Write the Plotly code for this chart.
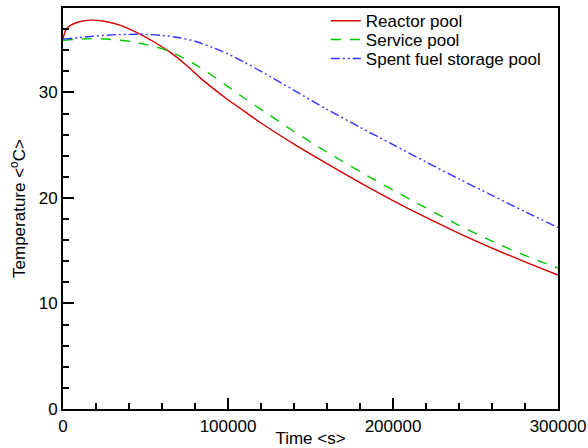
import plotly.graph_objects as go

# Time in seconds
t_red = [0, 2000, 5000, 10000, 17000, 25000, 35000, 47000, 55000, 65000, 75000, 83000,
         90000, 100000, 110000, 120000, 140000, 160000, 180000, 200000, 220000, 240000,
         260000, 280000, 300000]
reactor = [35.1, 36.0, 36.4, 36.7, 36.85, 36.75, 36.35, 35.5, 34.8, 33.8, 32.55, 31.4,
           30.5, 29.3, 28.2, 27.1, 25.1, 23.25, 21.45, 19.75, 18.15, 16.65,
           15.25, 13.95, 12.7]

t_green = [0, 10000, 20000, 30000, 40000, 50000, 60000, 70000, 80000, 90000, 100000,
           110000, 120000, 140000, 160000, 180000, 200000, 220000, 240000, 260000,
           280000, 300000]
service = [34.95, 35.05, 35.1, 35.0, 34.85, 34.55, 34.15, 33.5, 32.65, 31.65, 30.55,
           29.45, 28.4, 26.3, 24.35, 22.5, 20.75, 19.05, 17.4, 15.9,
           14.55, 13.35]

t_blue = [0, 10000, 20000, 30000, 40000, 50000, 60000, 70000, 80000, 90000, 100000,
          110000, 120000, 140000, 160000, 180000, 200000, 220000, 240000, 260000,
          280000, 300000]
spent = [35.05, 35.2, 35.35, 35.45, 35.5, 35.5, 35.4, 35.2, 34.85, 34.3, 33.65,
         32.85, 32.0, 30.2, 28.4, 26.7, 25.05, 23.4, 21.8, 20.25,
         18.7, 17.2]

x_ticks = [0, 100000, 200000, 300000]
y_ticks = [0, 10, 20, 30]

FONT = "Liberation Sans, Arial, sans-serif"
FS = 17

fig = go.Figure()
fig.add_trace(go.Scatter(x=t_red, y=reactor, mode="lines", name="Reactor pool",
                         legend="legend",
                         line=dict(color="#d40000", width=1.4, shape="spline", smoothing=0.8)))
fig.add_trace(go.Scatter(x=t_green, y=service, mode="lines", name="Service pool",
                         legend="legend2",
                         line=dict(color="#00c800", width=1.4, shape="spline", smoothing=0.8,
                                   dash="10px,9px")))
fig.add_trace(go.Scatter(x=t_blue, y=spent, mode="lines", name="Spent fuel storage pool",
                         legend="legend3",
                         line=dict(color="#3333ff", width=1.4, shape="spline", smoothing=0.8,
                                   dash="9px,3px,2px,3px,2px,3px")))

axis_common = dict(
    showgrid=False, zeroline=False, showline=True, linecolor="black", linewidth=2,
    mirror=True, ticks="inside", ticklen=11, tickwidth=2, tickcolor="black",
    tickfont=dict(family=FONT, size=FS, color="black"), automargin=False,
)

fig.update_xaxes(range=[0, 300000], tickvals=x_ticks, ticktext=[str(v) for v in x_ticks],
                 minor=dict(ticks="inside", ticklen=6, tickwidth=1.5, tickcolor="black", dtick=20000),
                 ticklabelstandoff=1,
                 title=dict(text="Time &lt;s&gt;", font=dict(family=FONT, size=FS, color="black"), standoff=0),
                 **axis_common)
fig.update_yaxes(range=[0, 38], tickvals=y_ticks, ticktext=[str(v) for v in y_ticks],
                 minor=dict(ticks="inside", ticklen=6, tickwidth=1.5, tickcolor="black", dtick=2),
                 title=dict(text="Temperature &lt;<sup>o</sup>C&gt;", font=dict(family=FONT, size=FS, color="black"), standoff=9),
                 **axis_common)

leg_common = dict(xanchor="left", yanchor="top", yref="container", bgcolor="rgba(0,0,0,0)",
                  borderwidth=0, font=dict(family=FONT, size=FS, color="black"))
LX = 0.531
fig.update_layout(
    width=588, height=448,
    margin=dict(l=63, r=30, t=8, b=39, autoexpand=False),
    plot_bgcolor="white", paper_bgcolor="white",
    font=dict(family=FONT, size=FS, color="black"),
    legend=dict(x=LX, y=0.9929, **leg_common),
    legend2=dict(x=LX, y=0.9510, **leg_common),
    legend3=dict(x=LX, y=0.9085, **leg_common),
    showlegend=True,
)

fig.write_html("out.html")
